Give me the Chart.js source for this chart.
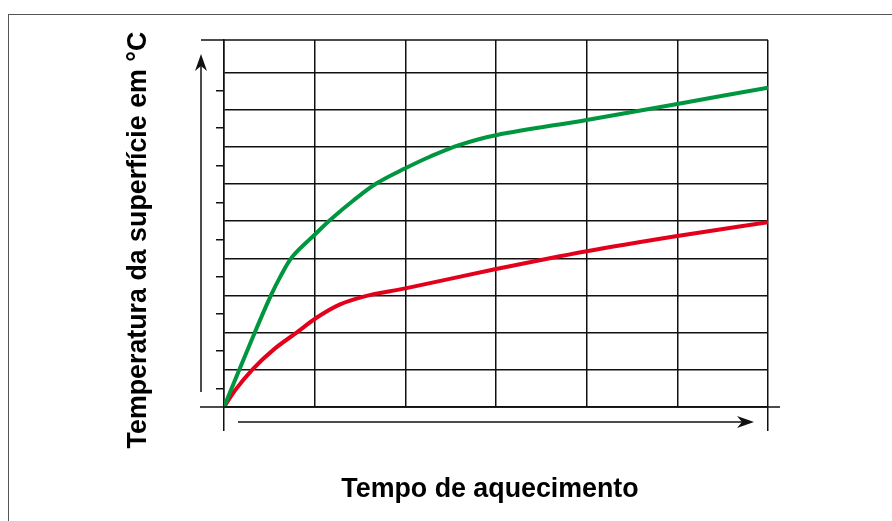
<!DOCTYPE html>
<html>
<head>
<meta charset="utf-8">
<script src="https://cdn.jsdelivr.net/npm/chart.js@4/dist/chart.umd.min.js"></script>
<style>
  html, body { margin: 0; padding: 0; background: #fff; }
  #wrap { position: relative; width: 892px; height: 521px; overflow: hidden; }
  #frame { position: absolute; left: 8px; top: 14px; width: 900px; height: 520px;
           border-left: 1px solid #555; border-top: 1px solid #555; }
  #chart { position: absolute; left: 0; top: 0; }
</style>
</head>
<body>
<div id="wrap">
  <div id="frame"></div>
  <canvas id="chart" width="892" height="521"></canvas>
</div>
<script>
// values (x = time grid units, y = temperature grid units)
const greenTime = [0, 0.32, 0.51, 0.62, 0.76, 1.02, 1.17, 1.43, 1.68, 2.0, 2.27, 2.6, 3.0, 4.0, 5.0, 6.0];
const greenTemp = [0, 1.89, 2.96, 3.50, 4.06, 4.68, 5.03, 5.56, 6.01, 6.42, 6.73, 7.05, 7.31, 7.72, 8.15, 8.59];
const redTime = [0, 0.12, 0.31, 0.55, 0.8, 1.02, 1.28, 1.54, 2.0, 3.0, 4.0, 5.0, 6.0];
const redTemp = [0, 0.44, 1.0, 1.55, 2.0, 2.40, 2.76, 2.97, 3.19, 3.71, 4.19, 4.60, 4.97];

const xMax = 6;
const yMax = 9.87;
const yTitle = 'Temperatura da superfície em °C';
const xTitle = 'Tempo de aquecimento';

const lineCol = '#111';
const titleFont = 'bold 26.8px "Liberation Sans", Arial, sans-serif';

function pts(xs, ys) {
    return xs.map((x, i) => ({ x: x, y: ys[i] }));
}

function arrow(ctx, x1, y1, x2, y2) {
    const a = Math.atan2(y2 - y1, x2 - x1);
    ctx.beginPath();
    ctx.moveTo(x1, y1);
    ctx.lineTo(x2 - 12 * Math.cos(a), y2 - 12 * Math.sin(a));
    ctx.stroke();
    ctx.save();
    ctx.translate(x2, y2);
    ctx.rotate(a);
    ctx.beginPath();
    ctx.moveTo(0, 0);
    ctx.lineTo(-17, -6);
    ctx.lineTo(-12, 0);
    ctx.lineTo(-17, 6);
    ctx.closePath();
    ctx.fill();
    ctx.restore();
}

const decor = {
    id: 'decor',
    afterDraw(chart) {
        const ctx = chart.ctx;
        const a = chart.chartArea;
        ctx.save();
        ctx.strokeStyle = lineCol;
        ctx.fillStyle = lineCol;
        ctx.lineWidth = 1.5;
        // top border, extended left
        ctx.beginPath();
        ctx.moveTo(a.left - 23, a.top);
        ctx.lineTo(a.right, a.top);
        // baseline, extended both ways
        ctx.moveTo(a.left - 24, a.bottom);
        ctx.lineTo(a.right + 12, a.bottom);
        ctx.stroke();
        // arrows
        arrow(ctx, a.left - 23, a.bottom - 15, a.left - 23, a.top + 14);
        arrow(ctx, a.left + 14, a.bottom + 15, a.right - 14, a.bottom + 15);
        // titles
        ctx.fillStyle = '#000';
        ctx.font = titleFont;
        ctx.textAlign = 'center';
        ctx.textBaseline = 'middle';
        ctx.fillText(xTitle, 490, 490);
        ctx.translate(139, 240);
        ctx.rotate(-Math.PI / 2);
        ctx.fillText(yTitle, 0, 0);
        ctx.restore();
    }
};

new Chart(document.getElementById('chart'), {
    type: 'line',
    data: {
        datasets: [{
            data: pts(greenTime, greenTemp),
            borderColor: '#00963f',
            borderWidth: 4,
            pointRadius: 0,
            tension: 0.35
        }, {
            data: pts(redTime, redTemp),
            borderColor: '#e3001b',
            borderWidth: 4,
            pointRadius: 0,
            cubicInterpolationMode: 'monotone'
        }]
    },
    options: {
        responsive: false,
        animation: false,
        layout: { padding: { top: 40, right: 124, left: 0, bottom: 0 } },
        plugins: { legend: { display: false }, tooltip: { enabled: false } },
        scales: {
            x: {
                type: 'linear',
                min: 0,
                max: xMax,
                afterFit: s => { s.height = 114; },
                ticks: { display: false, stepSize: 1 },
                border: { color: lineCol, width: 1.5 },
                grid: {
                    color: lineCol,
                    lineWidth: 1.5,
                    tickLength: 24,
                    tickColor: c => (c.tick && (c.tick.value === 0 || c.tick.value === xMax)) ? lineCol : 'rgba(0,0,0,0)'
                }
            },
            y: {
                min: 0,
                max: yMax,
                afterFit: s => { s.width = 224; },
                ticks: { display: false, stepSize: 0.5 },
                border: { color: lineCol, width: 1.5 },
                grid: {
                    lineWidth: 1.5,
                    tickLength: 8,
                    color: c => (c.tick && Number.isInteger(c.tick.value)) ? lineCol : 'rgba(0,0,0,0)',
                    tickColor: c => (c.tick && Math.abs(c.tick.value % 1 - 0.5) < 0.01) ? lineCol : 'rgba(0,0,0,0)'
                }
            }
        }
    },
    plugins: [decor]
});
</script>
</body>
</html>
